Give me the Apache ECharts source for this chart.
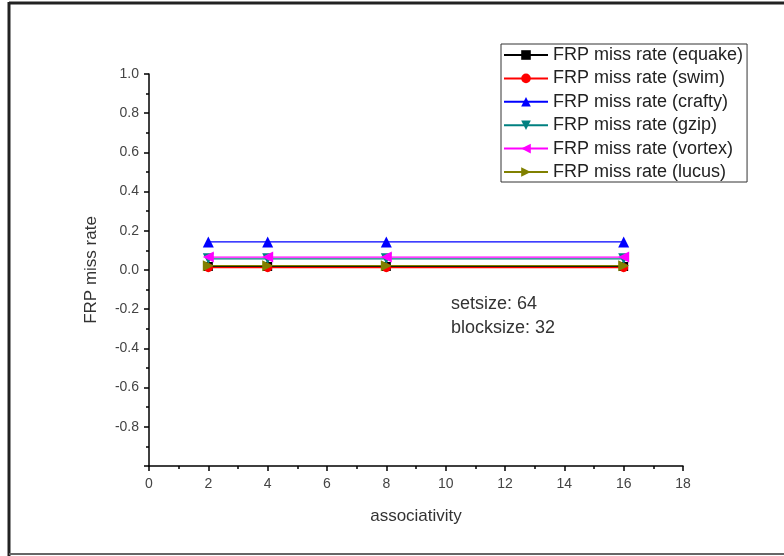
<!DOCTYPE html>
<html><head><meta charset="utf-8">
<script src="https://cdn.jsdelivr.net/npm/echarts@6/dist/echarts.min.js"></script>
<style>html,body{margin:0;padding:0;background:#fff}#c{width:784px;height:556px}</style>
</head><body><div id="c"></div>
<script>
const associativity = [2, 4, 8, 16];
const seriesNames = ['FRP miss rate (equake)', 'FRP miss rate (swim)', 'FRP miss rate (crafty)', 'FRP miss rate (gzip)', 'FRP miss rate (vortex)', 'FRP miss rate (lucus)'];
const equake = [0.018, 0.018, 0.018, 0.018];
const swim = [0.012, 0.012, 0.012, 0.012];
const crafty = [0.143, 0.143, 0.143, 0.143];
const gzip = [0.057, 0.057, 0.057, 0.057];
const vortex = [0.066, 0.066, 0.066, 0.066];
const lucus = [0.022, 0.022, 0.022, 0.022];
const annotation = ['setsize: 64', 'blocksize: 32'];

const colors = ['#000000', '#ff0000', '#0000ff', '#008080', '#ff00ff', '#808000'];
const symbols = ['rect', 'circle', 'triangle', 'triangle', 'triangle', 'triangle'];
const rotates = [0, 0, 0, 180, 90, -90];
const values = [equake, swim, crafty, gzip, vortex, lucus];
const font = 'Liberation Sans, Arial, sans-serif';

const chart = echarts.init(document.getElementById('c'));
chart.setOption({
  animation: false,
  backgroundColor: '#fff',
  textStyle: { fontFamily: font },
  grid: { left: 149, right: 101, top: 74, bottom: 90 },
  legend: {
    orient: 'vertical', left: 501, top: 44,
    padding: [2, 4, 1, 2],
    borderColor: '#333', borderWidth: 1,
    itemWidth: 44, itemHeight: 12, itemGap: 5.4,
    textStyle: { fontFamily: font, fontSize: 18, color: '#222', lineHeight: 18 },
    data: seriesNames
  },
  xAxis: {
    type: 'value', min: 0, max: 18, interval: 2,
    name: 'associativity', nameLocation: 'middle', nameGap: 42,
    nameTextStyle: { fontSize: 17, color: '#333', fontFamily: font },
    axisLine: { onZero: false, lineStyle: { color: '#000', width: 1.5 } },
    axisTick: { inside: false, length: 5, lineStyle: { color: '#000', width: 1.5 } },
    minorTick: { show: true, splitNumber: 2, length: 3, lineStyle: { color: '#000', width: 1.5 } },
    axisLabel: { fontSize: 14, color: '#444', margin: 11 },
    splitLine: { show: false }
  },
  yAxis: {
    type: 'value', min: -1, max: 1, interval: 0.2,
    name: 'FRP miss rate', nameLocation: 'middle', nameGap: 49,
    nameTextStyle: { fontSize: 17, color: '#333', fontFamily: font },
    axisLine: { onZero: false, lineStyle: { color: '#000', width: 1.5 } },
    axisTick: { inside: false, length: 5, lineStyle: { color: '#000', width: 1.5 } },
    minorTick: { show: true, splitNumber: 2, length: 3, lineStyle: { color: '#000', width: 1.5 } },
    axisLabel: {
      fontSize: 14, color: '#444', margin: 10,
      formatter: v => (Math.abs(v + 1) < 1e-9 ? '' : v.toFixed(1))
    },
    splitLine: { show: false }
  },
  series: seriesNames.map((n, i) => ({
    name: n, type: 'line',
    data: associativity.map((a, j) => [a, values[i][j]]),
    symbol: symbols[i], symbolRotate: rotates[i], symbolSize: i < 2 ? 9 : 11,
    showAllSymbol: true,
    color: colors[i],
    lineStyle: { color: colors[i], width: 1.2 },
    itemStyle: { color: colors[i] },
    z: 2 + i
  })),
  graphic: [
    { type: 'text', left: 451, top: 292, style: { text: annotation.join('\n'), font: '18px ' + font, fill: '#333', lineHeight: 24 } },
    { type: 'line', shape: { x1: 9, y1: 3, x2: 784, y2: 3 }, style: { stroke: '#222', lineWidth: 3 } },
    { type: 'line', shape: { x1: 9, y1: 2, x2: 9, y2: 556 }, style: { stroke: '#222', lineWidth: 3 } },
    { type: 'line', shape: { x1: 9, y1: 554, x2: 784, y2: 554 }, style: { stroke: '#666', lineWidth: 2 } }
  ]
});
</script></body></html>
